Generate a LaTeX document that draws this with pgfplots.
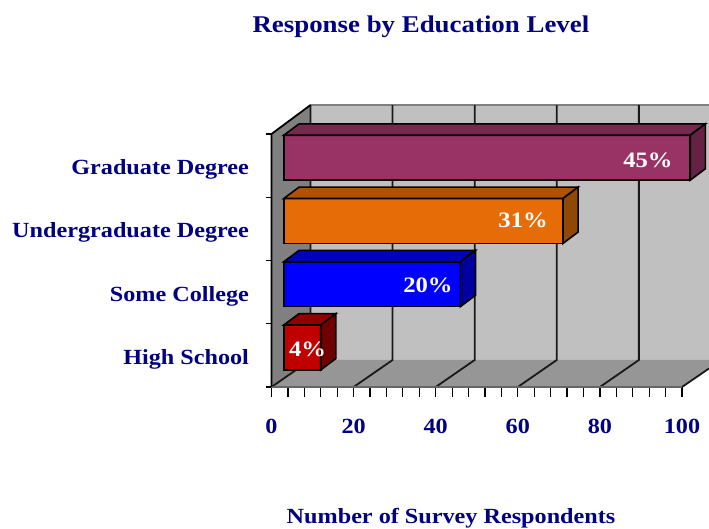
\documentclass[border=0pt]{standalone}
\usepackage{pgfplots}
\pgfplotsset{compat=1.18}
\usepackage{fontspec}
\setmainfont{Liberation Serif}[FakeStretch=1.12]
\definecolor{navytext}{HTML}{000080}
\definecolor{wallgray}{HTML}{C0C0C0}
\definecolor{sidewall}{HTML}{808080}
\definecolor{floorgray}{HTML}{969696}
\definecolor{purplefront}{HTML}{993366}
\definecolor{purpletop}{HTML}{732A4D}
\definecolor{purpleside}{HTML}{662244}
\definecolor{orangefront}{HTML}{E66C08}
\definecolor{orangetop}{HTML}{AD5206}
\definecolor{orangeside}{HTML}{8F4806}
\definecolor{bluefront}{HTML}{0000FF}
\definecolor{bluetop}{HTML}{0000C0}
\definecolor{blueside}{HTML}{0000A0}
\definecolor{redfront}{HTML}{C00000}
\definecolor{redtop}{HTML}{900000}
\definecolor{redside}{HTML}{700000}
\begin{document}
\begin{tikzpicture}
  \useasboundingbox (-271.5pt,-142pt) rectangle (437.5pt,387pt);
  \begin{axis}[
    scale only axis,
    width=410.5pt, height=253pt,
    xmin=0, xmax=100, ymin=0, ymax=4,
    clip=false,
    axis x line*=bottom, axis y line*=left,
    axis line style={-, line width=1.2pt},
    xtick={0,20,40,60,80,100},
    minor x tick num=4,
    major tick length=10pt, minor tick length=10pt,
    x tick style={black, line width=1.2pt},
    ytick={0.5,1.5,2.5,3.5},
    yticklabels={High School, Some College, Undergraduate Degree, Graduate Degree},
    y tick style={draw=none},
    tick align=outside,
    ticklabel style={font=\fontsize{21.6}{24}\bfseries\selectfont, text=navytext},
    /pgf/number format/assume math mode=true,
    xticklabel style={yshift=-19pt},
    yticklabel style={xshift=-9pt, yshift=-4pt},
    title={Response by Education Level},
    title style={at={(axis description cs:0.364,1.40)}, anchor=center,
      font=\fontsize{24}{28}\bfseries\selectfont, text=navytext},
    xlabel={Number of Survey Respondents},
    xlabel style={at={(axis description cs:0.4374,-0.52)}, anchor=center,
      font=\fontsize{21.6}{26}\bfseries\selectfont, text=navytext},
  ]
    % walls and floor
    \addplot[fill=wallgray, draw=none] coordinates {(9.5,0.427)(9.5,4.458)(106.57,4.458)(106.57,0.427)} -- cycle;
    \addplot[sidewall, line width=1.2pt] coordinates {(9.5,4.458)(106.57,4.458)};
    \addplot[fill=sidewall, draw=none] coordinates {(0,0)(9.5,0.427)(9.5,4.458)(0,4)} -- cycle;
    \addplot[fill=floorgray, draw=none] coordinates {(0,0)(100,0)(106.57,0.292)(106.57,0.427)(9.5,0.427)} -- cycle;
    % grid on the wall and floor
    \foreach \g/\h in {0/9.5,20/29.5,40/49.5,60/69.5,80/89.5}{
      \edef\temp{\noexpand\addplot[black!90, line width=1.8pt] coordinates {(\g,0)(\h,0.427)(\h,4.458)};}
      \temp
    }
    \addplot[black!90, line width=1.8pt] coordinates {(100,0)(106.57,0.292)};
    \addplot[black!60, line width=1.5pt] coordinates {(0,0)(100,0)};
    \addplot[black, line width=1.8pt] coordinates {(9.5,4.458)(0,4)(0,0)};
    % y axis ticks
    \foreach \t in {0,1,2,3,4}{
      \edef\temp{\noexpand\addplot[black, line width=1.2pt] coordinates {(-1.4,\t)(0,\t)};}
      \temp
    }
    % Graduate Degree, 99 respondents
    \addplot[fill=purplefront, draw=black, line width=1.6pt] coordinates {(3,3.27)(102,3.27)(102,3.98)(3,3.98)} -- cycle;
    \addplot[fill=purpletop, draw=black, line width=1.6pt] coordinates {(3,3.98)(102,3.98)(105.7,4.16)(6.7,4.16)} -- cycle;
    \addplot[fill=purpleside, draw=black, line width=1.6pt] coordinates {(102,3.27)(105.7,3.45)(105.7,4.16)(102,3.98)} -- cycle;
    % Undergraduate Degree, 68 respondents
    \addplot[fill=orangefront, draw=black, line width=1.6pt] coordinates {(3,2.27)(71,2.27)(71,2.98)(3,2.98)} -- cycle;
    \addplot[fill=orangetop, draw=black, line width=1.6pt] coordinates {(3,2.98)(71,2.98)(74.7,3.16)(6.7,3.16)} -- cycle;
    \addplot[fill=orangeside, draw=black, line width=1.6pt] coordinates {(71,2.27)(74.7,2.45)(74.7,3.16)(71,2.98)} -- cycle;
    % Some College, 43 respondents
    \addplot[fill=bluefront, draw=black, line width=1.6pt] coordinates {(3,1.27)(46,1.27)(46,1.98)(3,1.98)} -- cycle;
    \addplot[fill=bluetop, draw=black, line width=1.6pt] coordinates {(3,1.98)(46,1.98)(49.7,2.16)(6.7,2.16)} -- cycle;
    \addplot[fill=blueside, draw=black, line width=1.6pt] coordinates {(46,1.27)(49.7,1.45)(49.7,2.16)(46,1.98)} -- cycle;
    % High School, 9 respondents
    \addplot[fill=redfront, draw=black, line width=1.6pt] coordinates {(3,0.27)(12,0.27)(12,0.98)(3,0.98)} -- cycle;
    \addplot[fill=redtop, draw=black, line width=1.6pt] coordinates {(3,0.98)(12,0.98)(15.7,1.16)(6.7,1.16)} -- cycle;
    \addplot[fill=redside, draw=black, line width=1.6pt] coordinates {(12,0.27)(15.7,0.45)(15.7,1.16)(12,0.98)} -- cycle;
    % percentages
    \node[text=white, font=\fontsize{22}{24}\bfseries\selectfont] at (axis cs:91.7,3.59) {45\%};
    \node[text=white, font=\fontsize{22}{24}\bfseries\selectfont] at (axis cs:61.3,2.64) {31\%};
    \node[text=white, font=\fontsize{22}{24}\bfseries\selectfont] at (axis cs:38.1,1.61) {20\%};
    \node[text=white, font=\fontsize{22}{24}\bfseries\selectfont] at (axis cs:8.8,0.60) {4\%};
  \end{axis}
\end{tikzpicture}
\end{document}
